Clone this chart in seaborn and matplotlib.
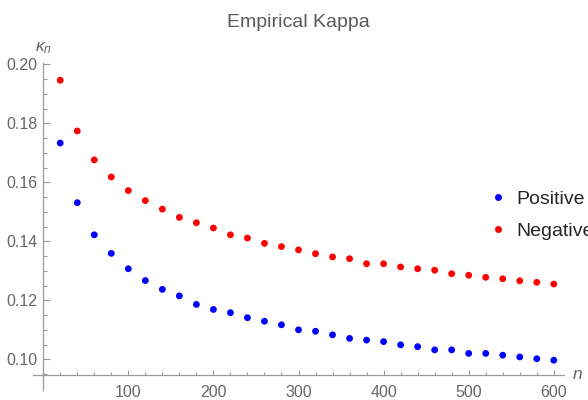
import matplotlib
matplotlib.use("Agg")
import matplotlib.pyplot as plt
import pandas as pd
import seaborn as sns
from matplotlib.ticker import MultipleLocator, FixedLocator

n_values = list(range(20, 620, 20))
positive = [0.1733, 0.1531, 0.1422, 0.1359, 0.1307, 0.1267, 0.1237, 0.1215,
            0.1186, 0.1169, 0.1158, 0.1141, 0.1129, 0.1117, 0.1100, 0.1095,
            0.1083, 0.1071, 0.1065, 0.1060, 0.1049, 0.1043, 0.1032, 0.1032,
            0.1020, 0.1020, 0.1014, 0.1008, 0.1002, 0.0997]
negative = [0.1946, 0.1774, 0.1676, 0.1618, 0.1572, 0.1538, 0.1509, 0.1481,
            0.1463, 0.1445, 0.1422, 0.1411, 0.1393, 0.1382, 0.1371, 0.1358,
            0.1347, 0.1341, 0.1324, 0.1324, 0.1313, 0.1307, 0.1302, 0.1290,
            0.1285, 0.1278, 0.1273, 0.1266, 0.1261, 0.1255]
series_names = ["Positive", "Negative"]
series_colors = {"Positive": "#0000ff", "Negative": "#ff0000"}
x_ticks = [100, 200, 300, 400, 500, 600]
y_ticks = [0.10, 0.12, 0.14, 0.16, 0.18, 0.20]

df = pd.DataFrame({
    "n": n_values * 2,
    "kappa": positive + negative,
    "series": ["Positive"] * len(n_values) + ["Negative"] * len(n_values),
})

sns.set_theme(style="white")
plt.rcParams["font.family"] = ["Liberation Sans", "DejaVu Sans"]
plt.rcParams["mathtext.fontset"] = "custom"
plt.rcParams["mathtext.it"] = "Liberation Sans:italic"
plt.rcParams["mathtext.rm"] = "Liberation Sans"

axis_grey = "#9a9a9a"
text_grey = "#666666"

fig, ax = plt.subplots(figsize=(5.88, 4), dpi=100)
ax.set_position([33 / 588, 10 / 400, 531 / 588, 327.2 / 400])

sns.scatterplot(data=df, x="n", y="kappa", hue="series", hue_order=series_names,
                palette=series_colors, s=24, linewidth=0, ax=ax, legend=False,
                clip_on=False)

ax.set_xlim(-12, 612)
ax.set_ylim(0.0896, 0.2005)

ax.spines["top"].set_visible(False)
ax.spines["right"].set_visible(False)
ax.spines["left"].set_position(("data", 0))
ax.spines["bottom"].set_position(("data", 0.0947))
for side in ["left", "bottom"]:
    ax.spines[side].set_color(axis_grey)
    ax.spines[side].set_linewidth(0.9)

ax.set_xticks(x_ticks)
ax.set_xticklabels([str(t) for t in x_ticks])
ax.set_yticks(y_ticks)
ax.set_yticklabels([f"{t:.2f}" for t in y_ticks])
ax.xaxis.set_minor_locator(MultipleLocator(20))
ax.yaxis.set_minor_locator(FixedLocator([0.095 + 0.005 * i for i in range(22)]))

ax.tick_params(axis="both", which="both", direction="in", color=axis_grey,
               labelcolor=text_grey, labelsize=11.5, width=0.8)
ax.tick_params(axis="x", which="major", length=3.5, pad=7, bottom=True)
ax.tick_params(axis="x", which="minor", length=2, bottom=True)
ax.tick_params(axis="y", which="major", length=5, pad=4, left=True)
ax.tick_params(axis="y", which="minor", length=3, left=True)

ax.set_xlabel("")
ax.set_ylabel("")
ax.set_title("Empirical Kappa", color="#5a5a5a", fontsize=14, pad=26)

ax.annotate(r"$\kappa_n$", xy=(0, 0.2005), xytext=(0, 5), textcoords="offset points",
            ha="center", va="bottom", color=text_grey, fontsize=12.5)
ax.annotate(r"$n$", xy=(612, 0.0947), xytext=(6, 0), textcoords="offset points",
            ha="left", va="center", color=text_grey, fontsize=12.5)

handles = [plt.Line2D([], [], marker="o", linestyle="", markersize=5,
                      markerfacecolor=series_colors[name], markeredgewidth=0)
           for name in series_names]
fig.legend(handles, series_names, loc="center left",
           bbox_to_anchor=(488 / 588, 1 - 215 / 400), frameon=False,
           fontsize=14, handlelength=1.0, handletextpad=0.45,
           labelspacing=0.75, borderpad=0, borderaxespad=0)

plt.savefig("out.png", dpi=100)
